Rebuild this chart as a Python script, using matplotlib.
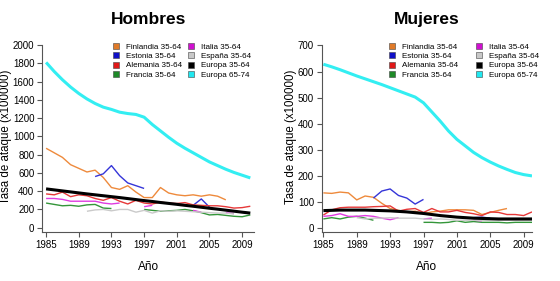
import numpy as np
import matplotlib
matplotlib.use("Agg")
import matplotlib.pyplot as plt
from matplotlib.lines import Line2D

plt.rcParams['font.family'] = ['Liberation Sans', 'DejaVu Sans']

nan = np.nan
years = list(range(1985, 2011))

series_names = ['Finlandia 35-64', 'Estonia 35-64', 'Alemania 35-64', 'Francia 35-64',
                'Italia 35-64', 'España 35-64', 'Europa 35-64', 'Europa 65-74']
colors = ['#EE8A3C', '#3535D8', '#E63838', '#34963A',
          '#E03CE0', '#CACACA', '#000000', '#33EEF2']
legend_colors = ['#E07A28', '#1010C8', '#E01818', '#1E8A28',
                 '#D010D0', '#C8C8C8', '#000000', '#20E8F0']

# Hombres
fin_h = [870, 820, 770, 690, 650, 610, 630, 550, 440, 420, 460, 390, 330, 330, 440, 380,
         360, 350, 360, 345, 360, 345, 305, nan, nan, nan]
est_h = [nan, nan, nan, nan, nan, nan, 560, 590, 680, 570, 490, 460, 430, nan, nan, nan,
         nan, nan, 245, 315, 225, nan, nan, nan, nan, nan]
ale_h = [370, 360, 390, 340, 360, 350, 320, 300, 330, 290, 260, 300, 270, 260, 280, 270,
         265, 275, 250, 245, 240, 240, 230, 215, 220, 235]
fra_h = [270, 255, 240, 245, 235, 250, 255, 215, 210, nan, nan, nan, 200, 190, 180, 185,
         190, 200, 185, 165, 140, 145, 135, 125, 120, 140]
ita_h = [320, 320, 310, 290, 290, 290, 290, 270, 260, 270, nan, nan, 230, 245, nan, nan,
         nan, nan, 190, 170, nan, nan, 165, 155, nan, nan]
esp_h = [nan, nan, nan, nan, nan, 180, 195, 200, 185, 200, 200, 170, 190, 160, 185, 180,
         185, 180, 175, 170, 165, 160, 160, 150, nan, nan]
eu35_h = [425, 414, 403, 392, 381, 370, 360, 350, 340, 330, 319, 308, 297, 287, 276, 266,
          256, 245, 235, 224, 213, 203, 192, 181, 170, 160]
eu65_h = [1810, 1710, 1620, 1540, 1470, 1410, 1360, 1320, 1295, 1265, 1250, 1240, 1210,
          1130, 1060, 990, 925, 870, 820, 770, 720, 680, 640, 605, 575, 545]

# Mujeres
fin_m = [135, 133, 138, 135, 108, 123, 118, 95, 75, 68, 62, 65, 55, 62, 65, 70,
         70, 70, 68, 52, 60, 68, 75, nan, nan, nan]
est_m = [nan, nan, nan, nan, nan, nan, 115, 142, 150, 125, 115, 92, 110, nan, nan, nan,
         nan, nan, 40, 42, 38, nan, nan, nan, nan, nan]
ale_m = [50, 70, 78, 80, 80, 80, 82, 83, 85, 65, 72, 75, 60, 75, 62, 62,
         68, 60, 55, 48, 62, 60, 52, 52, 48, 62]
fra_m = [35, 40, 35, 42, 45, 38, 30, nan, nan, nan, nan, nan, 22, 22, 20, 22,
         28, 22, 25, 22, 22, 22, 20, 22, 22, 22]
ita_m = [45, 48, 55, 45, 45, 48, 45, 38, 32, 40, nan, nan, 35, 38, nan, nan,
         nan, nan, 30, 28, nan, nan, nan, 30, 32, nan]
esp_m = [nan, nan, nan, nan, 40, 35, 38, 38, 40, 38, 38, 38, 35, 33, 35, 33,
         30, 30, 30, 30, 30, 30, 30, 30, 30, 30]
eu35_m = [67, 68, 69, 69, 69, 69, 68, 67, 66, 64, 62, 59, 56, 52, 48, 45,
          42, 40, 38, 37, 36, 35, 35, 35, 35, 35]
eu65_m = [628, 618, 607, 595, 583, 572, 561, 550, 538, 526, 514, 502, 480, 445, 410, 372,
          340, 315, 290, 270, 253, 238, 225, 213, 205, 200]

x_ticks = [1985, 1989, 1993, 1997, 2001, 2005, 2009]
y_ticks_h = [0, 200, 400, 600, 800, 1000, 1200, 1400, 1600, 1800, 2000]
y_ticks_m = [0, 100, 200, 300, 400, 500, 600, 700]


def panel(ax, data, title, yticks, xlim, ylim, leg_x, colsp):
    for i, vals in enumerate(data):
        lw = 2.2 if i >= 6 else 1.0
        ax.plot(years, vals, color=colors[i], lw=lw, solid_capstyle='butt')
    ax.set_xlim(*xlim)
    ax.set_ylim(*ylim)
    ax.set_xticks(x_ticks)
    ax.set_yticks(yticks)
    ax.spines['top'].set_visible(False)
    ax.spines['right'].set_visible(False)
    for s in ['left', 'bottom']:
        ax.spines[s].set_color('#555555')
        ax.spines[s].set_linewidth(0.8)
    ax.spines['left'].set_bounds(ylim[0], yticks[-1])
    ax.tick_params(length=3.5, width=0.8, color='#555555', labelsize=7, pad=2)
    ax.set_title(title, fontsize=12.5, fontweight='bold', pad=13)
    ax.set_xlabel('Año', fontsize=8.5, labelpad=8)
    ax.set_ylabel('Tasa de ataque (x100000)', fontsize=8.3, labelpad=0.5)
    handles = [Line2D([], [], ls='none', marker='s', markersize=4,
                      markerfacecolor=c, markeredgecolor='#444444', markeredgewidth=0.4)
               for c in legend_colors]
    ax.legend(handles, series_names, ncol=2, loc='upper left', bbox_to_anchor=(leg_x, 0.995),
              frameon=False, fontsize=5.8, handlelength=0.8, handletextpad=0.85,
              columnspacing=colsp, labelspacing=0.2, borderpad=0, borderaxespad=0)


fig = plt.figure(figsize=(5.6, 2.81), dpi=100)
ax1 = fig.add_axes([42 / 560, 49 / 281, 212.4 / 560, 189.7 / 281])
ax2 = fig.add_axes([321.7 / 560, 49 / 281, 210.3 / 560, 189.7 / 281])

panel(ax1, [fin_h, est_h, ale_h, fra_h, ita_h, esp_h, eu35_h, eu65_h], 'Hombres',
      y_ticks_h, (1984.5, 2010.5), (-47, 2030), 0.333, 0.7)
panel(ax2, [fin_m, est_m, ale_m, fra_m, ita_m, esp_m, eu35_m, eu65_m], 'Mujeres',
      y_ticks_m, (1984.8, 2010.0), (-15, 712), 0.318, 2.2)

fig.savefig('out.png', dpi=100)
